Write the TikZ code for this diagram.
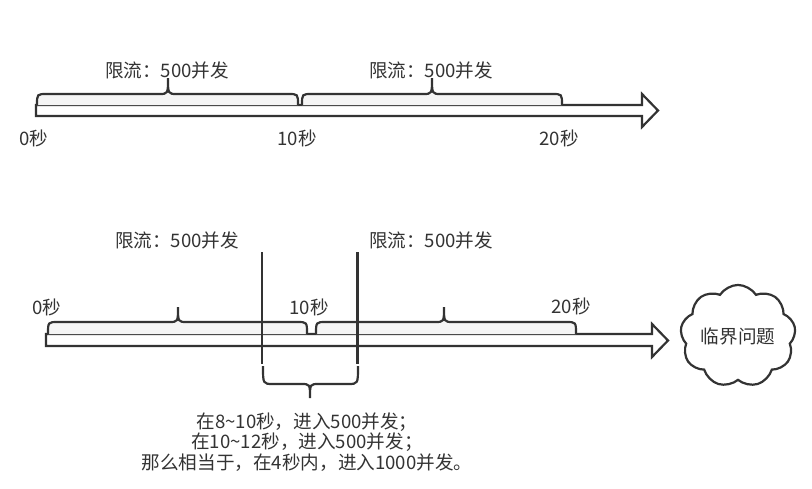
\documentclass[tikz,border=0pt]{standalone}
\usepackage{fontspec}
\newfontfamily\cjk{Noto Sans CJK SC}
\usetikzlibrary{shapes.symbols}
\definecolor{ink}{HTML}{333333}
\definecolor{bracefill}{HTML}{F5F5F5}
\newcommand\mybrace[6]{% x1 x2 xm yb yt ytip
  \filldraw[bracestyle] (#1,#4) .. controls (#1,#5) .. (#1+10,#5) -- (#3-9,#5)
    .. controls (#3,#5) .. (#3,#6) .. controls (#3,#5) .. (#3+9,#5)
    -- (#2-10,#5) .. controls (#2,#5) .. (#2,#4);}
\newcommand\tld{{\char"7E}}
\begin{document}
\begin{tikzpicture}[x=1pt,y=-1pt,
  lbl/.style={font=\cjk\fontsize{18.6}{20.5}\selectfont, text=ink, inner sep=0pt, anchor=center},
  arrowbody/.style={draw=ink, line width=2.2pt, fill=white, line join=miter},
  bracestyle/.style={draw=ink, line width=2.2pt, fill=bracefill},
  vline/.style={draw=ink, line width=2.2pt}]
\useasboundingbox (0,0) rectangle (812,488);
% top timeline
\draw[arrowbody] (36,105) -- (642,105) -- (642,94) -- (658,110.5) -- (642,127) -- (642,116) -- (36,116) -- cycle;
\mybrace{37}{298}{168}{105}{94}{78}
\mybrace{302}{562}{432}{105}{94}{78}
\node[lbl] (t1) at (167,70) {限流：500并发};
\node[lbl] (t2) at (431,70) {限流：500并发};
\node[lbl] (s0) at (34,138) {0秒};
\node[lbl] (s10) at (297,138) {10秒};
\node[lbl] (s20) at (559,138) {20秒};
% bottom timeline
\draw[arrowbody] (46,334) -- (652,334) -- (652,324) -- (668,340.5) -- (652,357) -- (652,346) -- (46,346) -- cycle;
\mybrace{48}{307}{178}{334}{322}{307}
\mybrace{316}{576}{444}{334}{322}{307}
\node[lbl] (b1) at (177,240) {限流：500并发};
\node[lbl] (b2) at (431,240) {限流：500并发};
\node[lbl] (u0) at (47,307) {0秒};
\node[lbl] (u10) at (309,307) {10秒};
\node[lbl] (u20) at (571,306) {20秒};
\coordinate (l1a) at (262,252); \coordinate (l1b) at (262,364);
\coordinate (l2a) at (357.5,252); \coordinate (l2b) at (357.5,364);
\draw[vline] (l1a) -- (l1b);
\draw[vline] (l2a) -- (l2b);
\draw[draw=ink, line width=2.2pt] (263,366) .. controls (263,384) .. (273,384) -- (301,384)
  .. controls (310,384) .. (310,398) .. controls (310,384) .. (319,384) -- (348,384)
  .. controls (358,384) .. (358,366);
\node[lbl, align=center] (note) at (307,442) {在8\tld10秒，进入500并发；\\在10\tld12秒，进入500并发；\\那么相当于，在4秒内，进入1000并发。};
\node[cloud, cloud puffs=9, cloud puff arc=115, aspect=1.2, draw=ink, line width=2.2pt, fill=white,
  minimum width=96pt, minimum height=82pt, font=\cjk\fontsize{18.6}{20}\selectfont, text=ink, inner sep=0pt] (cl) at (738,336) {临界问题};
\end{tikzpicture}
\end{document}
